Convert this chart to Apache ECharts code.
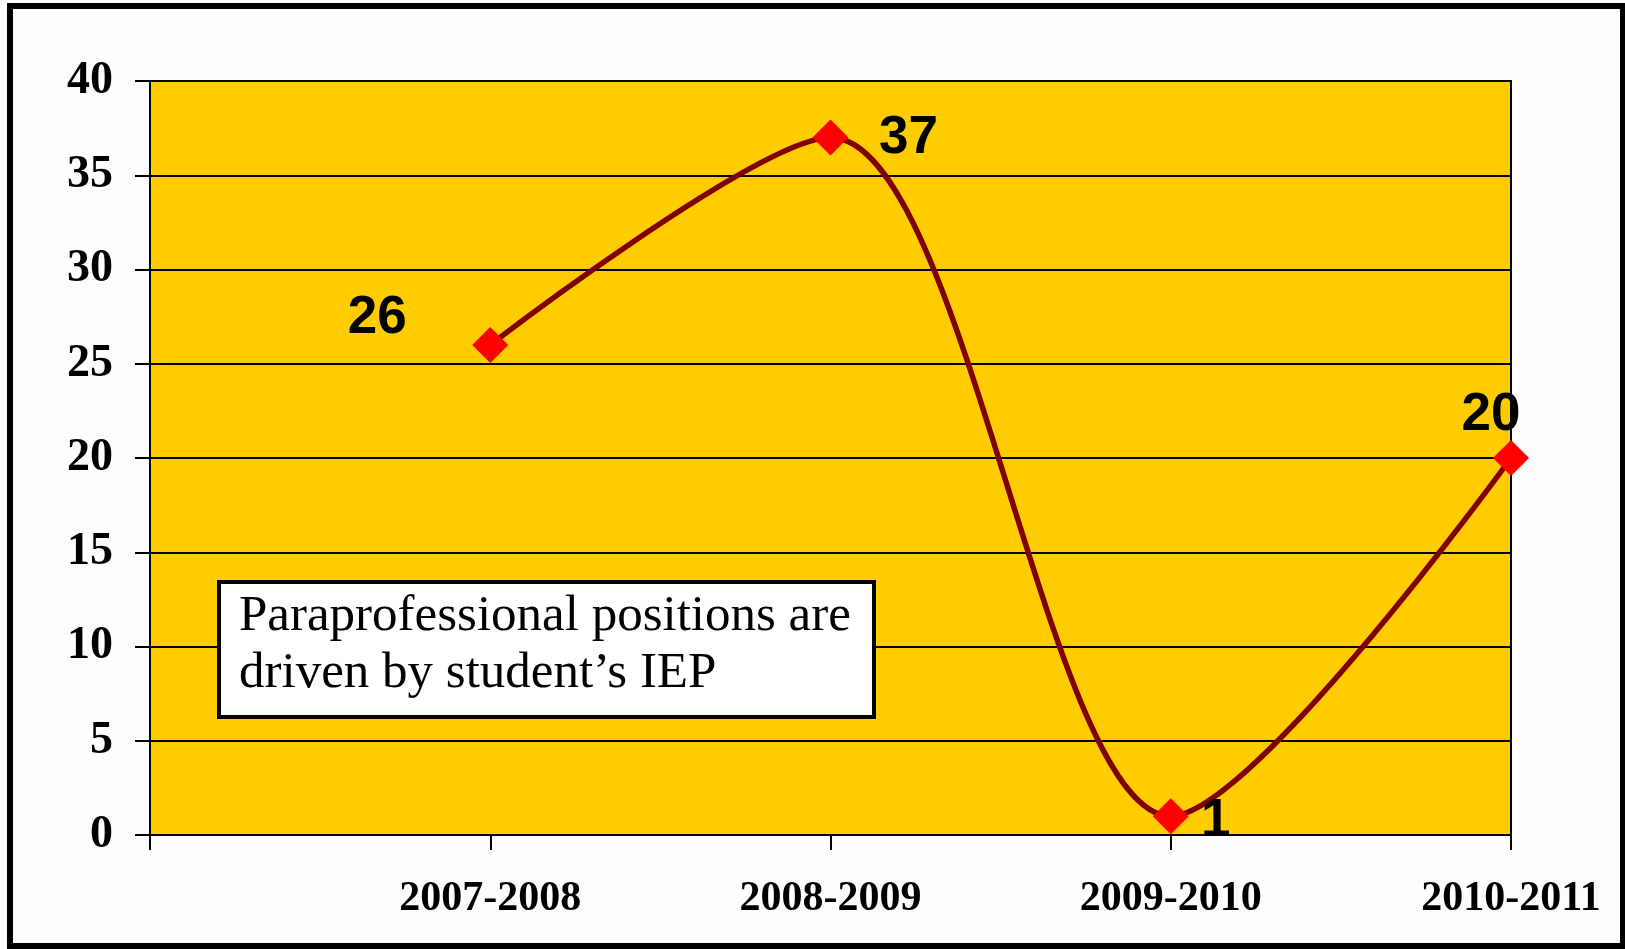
<!DOCTYPE html>
<html>
<head>
<meta charset="utf-8">
<script src="https://cdn.jsdelivr.net/npm/echarts@6/dist/echarts.min.js"></script>
<style>
  html, body { margin: 0; padding: 0; background: #fdfdfd; }
  #chart { width: 1625px; height: 949px; }
</style>
</head>
<body>
<div id="chart"></div>
<script>
// categories (first slot is empty, as in the original sheet)
const years = ['', '2007-2008', '2008-2009', '2009-2010', '2010-2011'];
const positions = [null, 26, 37, 1, 20];
const yTicks = [0, 5, 10, 15, 20, 25, 30, 35, 40];
const note = ['Paraprofessional positions are', 'driven by student\u2019s IEP'];
// where each value label sits relative to its point
const labelOffsets = [null, [-113, -27], [78, 1], [45, 5], [-20, -43]];

const chart = echarts.init(document.getElementById('chart'));

const seriesData = positions.map((v, i) => {
  if (v === null) return null;
  return {
    value: v,
    label: { offset: labelOffsets[i] }
  };
});

const option = {
  backgroundColor: '#fdfdfd',
  animation: false,
  grid: {
    left: 150, top: 81, right: 114, bottom: 114,
    show: true,
    backgroundColor: '#FFCC00',
    borderColor: '#000',
    borderWidth: 2
  },
  xAxis: {
    type: 'category',
    data: years,
    boundaryGap: false,
    axisLine: { lineStyle: { color: '#000', width: 2 } },
    axisTick: { show: true, length: 15, lineStyle: { color: '#000', width: 2 } },
    axisLabel: {
      margin: 43,
      color: '#000',
      fontFamily: 'Liberation Serif',
      fontWeight: 'bold',
      fontSize: 42
    },
    splitLine: { show: false }
  },
  yAxis: {
    type: 'value',
    min: yTicks[0],
    max: yTicks[yTicks.length - 1],
    interval: 5,
    axisLine: { show: true, lineStyle: { color: '#000', width: 2 } },
    axisTick: { show: true, length: 15, lineStyle: { color: '#000', width: 2 } },
    axisLabel: {
      margin: 37,
      color: '#000',
      fontFamily: 'Liberation Serif',
      fontWeight: 'bold',
      fontSize: 46
    },
    splitLine: { show: true, lineStyle: { color: '#000', width: 2 } }
  },
  series: [{
    type: 'line',
    data: seriesData,
    smooth: 0.3,
    connectNulls: false,
    symbol: 'diamond',
    symbolSize: 36,
    itemStyle: { color: '#FF0000' },
    lineStyle: { color: '#800000', width: 5.5 },
    z: 3,
    label: {
      show: true,
      position: 'inside',
      color: '#000',
      fontFamily: 'Liberation Sans',
      fontWeight: 'bold',
      fontSize: 53
    }
  }],
  graphic: [
    {
      type: 'rect',
      shape: { x: 10, y: 6, width: 1613, height: 940 },
      style: { fill: 'none', stroke: '#000', lineWidth: 6 },
      silent: true
    },
    {
      type: 'rect',
      shape: { x: 219, y: 582, width: 655, height: 135 },
      style: { fill: '#fff', stroke: '#000', lineWidth: 4 },
      z: 10
    },
    {
      type: 'text',
      x: 239,
      y: 588,
      z: 11,
      style: {
        text: note.join('\n'),
        fill: '#000',
        font: '51px "Liberation Serif"',
        lineHeight: 57
      }
    }
  ]
};

chart.setOption(option);
</script>
</body>
</html>
